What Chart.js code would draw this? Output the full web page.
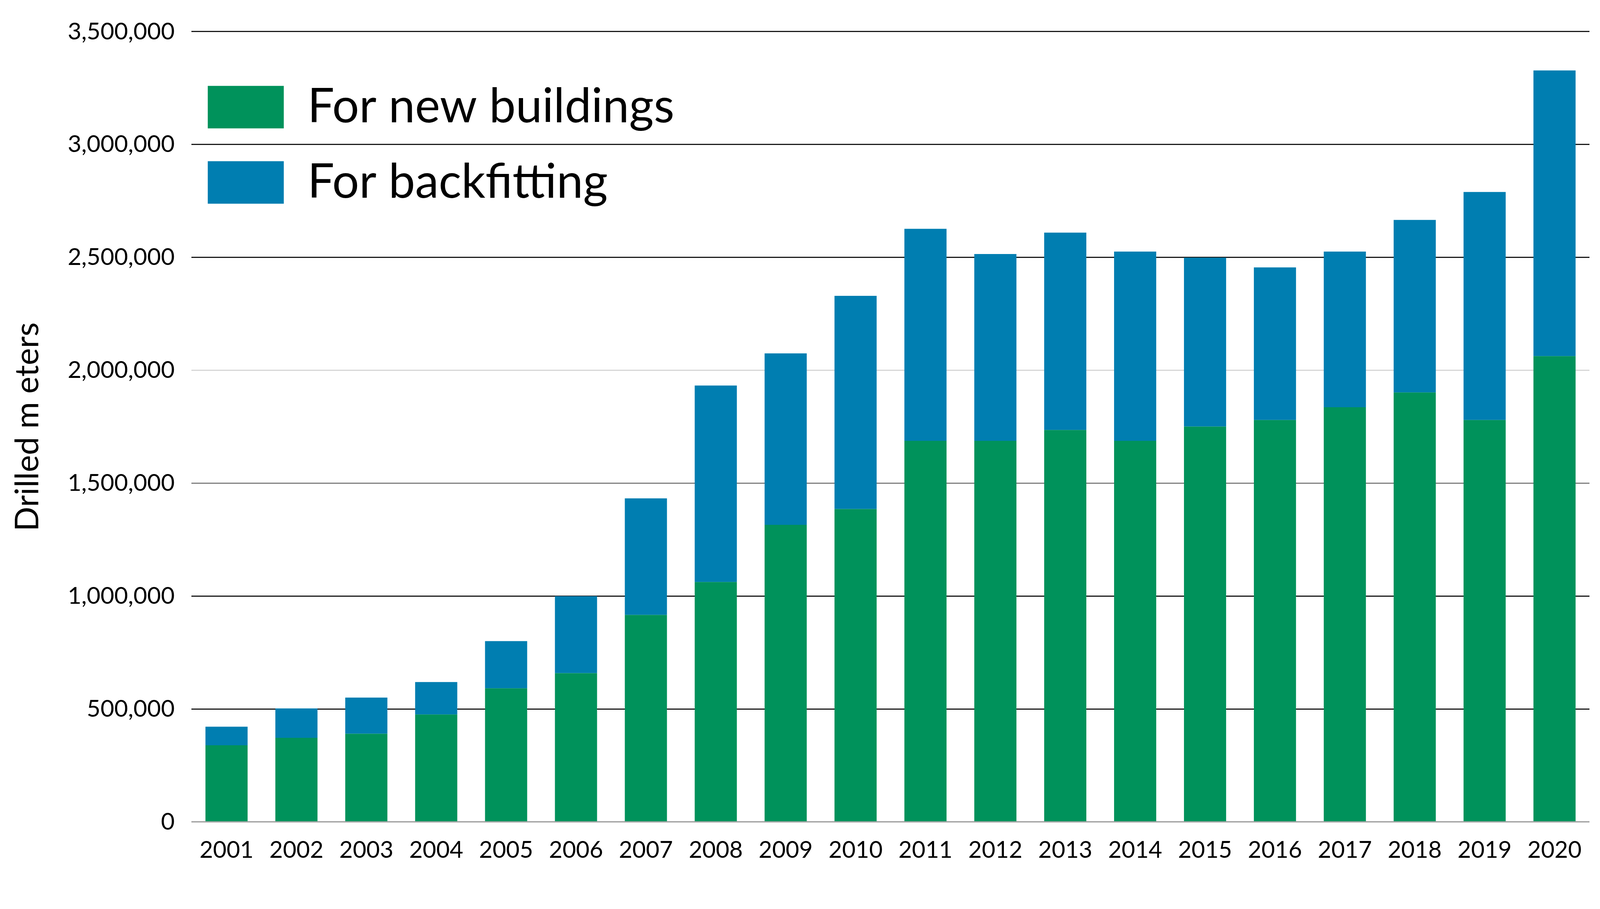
<!DOCTYPE html>
<html>
<head>
<meta charset="utf-8">
<script src="https://cdn.jsdelivr.net/npm/chart.js@4.4.1/dist/chart.umd.min.js"></script>
<style>
  html, body { margin: 0; padding: 0; background: #ffffff; overflow: hidden; }
  #wrap { position: relative; }
  #wrap canvas { display: block; }
</style>
</head>
<body>
<div id="wrap"><canvas id="chart"></canvas></div>
<script>
// ---- data ----
const years = ['2001','2002','2003','2004','2005','2006','2007','2008','2009','2010',
               '2011','2012','2013','2014','2015','2016','2017','2018','2019','2020'];
const newBuildings = [340000, 373000, 391000, 476000, 592000, 659000, 917000, 1063000, 1316000, 1386000,
                      1688000, 1688000, 1736000, 1688000, 1751000, 1780000, 1837000, 1902000, 1780000, 2063000];
const backfitting  = [82000, 130000, 160000, 144000, 209000, 341000, 516000, 870000, 759000, 944000,
                      939000, 827000, 874000, 838000, 748000, 676000, 689000, 764000, 1010000, 1265000];
const seriesNames = ['For new buildings', 'For backfitting'];
const yTickValues = [0, 500000, 1000000, 1500000, 2000000, 2500000, 3000000, 3500000];
const yTitle = 'Drilled m eters';

// ---- layout scale: design is 4251 x 2326, fit it to the actual viewport ----
const W = 4251, H = 2326;
const s = Math.min(window.innerWidth / W, window.innerHeight / H);
const S = v => v * s;
const wrap = document.getElementById('wrap');
wrap.style.width = (W * s) + 'px';
wrap.style.height = (H * s) + 'px';

// ---- styles ----
const GREEN = '#00925B';
const BLUE = '#007EB1';
const gridColorFor = function (v) {
  if (v === 0) return '#a8a8a8';
  if (v === 2000000) return '#d6d6d6';
  if (v === 1500000) return '#808080';
  return '#1a1a1a';
};

const legendPlacer = {
  id: 'legendPlacer',
  afterLayout(chart) {
    const lg = chart.legend, ca = chart.chartArea;
    if (!lg) return;
    lg.left = ca.left - S(31);
    lg.top = ca.top + S(63.5);
    lg.right = ca.right;
    lg.bottom = ca.bottom;
  }
};

new Chart(document.getElementById('chart'), {
  type: 'bar',
  data: {
    labels: years,
    datasets: [
      { label: seriesNames[0], data: newBuildings, backgroundColor: GREEN, borderWidth: 0 },
      { label: seriesNames[1], data: backfitting, backgroundColor: BLUE, borderWidth: 0 }
    ]
  },
  options: {
    responsive: true,
    maintainAspectRatio: false,
    animation: false,
    layout: { padding: { left: 0, top: S(84), right: S(28), bottom: 0 } },
    datasets: { bar: { categoryPercentage: 1.0, barPercentage: 0.603 } },
    plugins: {
      tooltip: { enabled: false },
      legend: {
        position: 'chartArea',
        align: 'start',
        labels: {
          boxWidth: S(202),
          boxHeight: S(113),
          padding: S(74),
          color: '#000000',
          font: { family: 'Lato', size: S(126) }
        }
      }
    },
    scales: {
      x: {
        stacked: true,
        grid: { display: false },
        border: { display: false },
        ticks: {
          color: '#000000',
          font: { family: 'Lato', size: S(62) },
          padding: S(30),
          maxRotation: 0,
          autoSkip: false
        },
        afterFit(scale) { scale.height = S(143); }
      },
      y: {
        stacked: true,
        min: 0,
        max: 3500000,
        afterBuildTicks(scale) { scale.ticks = yTickValues.map(v => ({ value: v })); },
        grid: {
          drawTicks: false,
          color: ctx => gridColorFor(ctx.tick ? ctx.tick.value : -1),
          lineWidth: ctx => S(ctx.tick && ctx.tick.value === 0 ? 4 : 3)
        },
        border: { display: false },
        ticks: {
          color: '#000000',
          font: { family: 'Lato', size: S(63) },
          padding: S(45),
          callback: v => Number(v).toLocaleString('en-US')
        },
        title: {
          display: true,
          text: yTitle,
          color: '#000000',
          font: { family: 'Lato', size: S(86) },
          padding: { top: S(22), bottom: 0 }
        },
        afterFit(scale) { scale.width = S(509); }
      }
    }
  },
  plugins: [legendPlacer]
});
</script>
</body>
</html>
